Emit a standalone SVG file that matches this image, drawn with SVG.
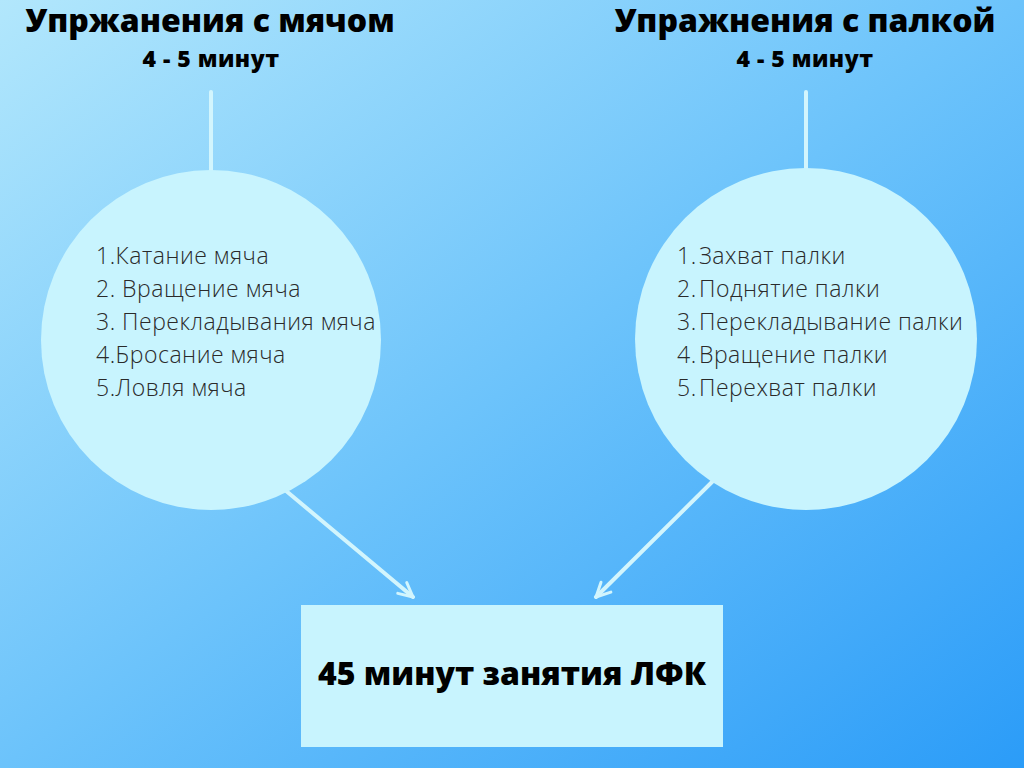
<svg xmlns="http://www.w3.org/2000/svg" width="1024" height="768" viewBox="0 0 1024 768">
<defs>
<linearGradient id="bg" x1="0" y1="0" x2="1" y2="1">
<stop offset="0" stop-color="#b2e7fc"/>
<stop offset="0.5" stop-color="#6cc3fb"/>
<stop offset="1" stop-color="#2b9cf8"/>
</linearGradient>
<marker id="arr" viewBox="0 0 20 20" refX="17" refY="10" markerWidth="20" markerHeight="20" markerUnits="userSpaceOnUse" orient="auto">
<path d="M3,3 L17,10 L3,17" fill="none" stroke="#d2f5fd" stroke-width="3" stroke-linecap="round" stroke-linejoin="round"/>
</marker>
<style>
.title{font-family:"Open Sans","Noto Sans",sans-serif;font-weight:800;font-size:32px;fill:#000;text-anchor:middle}
.sub{font-family:"Open Sans","Noto Sans",sans-serif;font-weight:800;font-size:23px;letter-spacing:0.5px;fill:#000;text-anchor:middle}
.item{font-family:"Open Sans","Noto Sans",sans-serif;font-weight:300;font-size:23px;letter-spacing:0.5px;fill:#2a2a2a}
.circ{fill:#c8f4fe}
.conn{stroke:#d2f5fd;stroke-width:4;fill:none;stroke-linecap:round}
.main{font-family:"Open Sans","Noto Sans",sans-serif;font-weight:800;font-size:32px;fill:#000;text-anchor:middle}
</style>
</defs>
<rect width="1024" height="768" fill="url(#bg)"/>
<g id="connectors">
<line class="conn" x1="211" y1="92" x2="211" y2="172"/>
<line class="conn" x1="806" y1="92" x2="806" y2="172"/>
<line class="conn" x1="285" y1="490" x2="413" y2="597" marker-end="url(#arr)"/>
<line class="conn" x1="713" y1="481" x2="596" y2="597" marker-end="url(#arr)"/>
</g>
<g id="title-left">
<text class="title" x="210" y="32">Упржанения с мячом</text>
<text class="sub" x="211" y="67">4 - 5 минут</text>
</g>
<g id="title-right">
<text class="title" x="805" y="32">Упражнения с палкой</text>
<text class="sub" x="805" y="67">4 - 5 минут</text>
</g>
<g id="circle-left">
<circle class="circ" cx="211" cy="340" r="170"/>
<text class="item" x="96" y="264">1.Катание мяча</text>
<text class="item" x="96" y="297">2. Вращение мяча</text>
<text class="item" x="96" y="330">3. Перекладывания мяча</text>
<text class="item" x="96" y="363">4.Бросание мяча</text>
<text class="item" x="96" y="396">5.Ловля мяча</text>
</g>
<g id="circle-right">
<circle class="circ" cx="806" cy="339" r="171"/>
<text class="item" x="677" y="264">1.<tspan x="699">Захват палки</tspan></text>
<text class="item" x="677" y="297">2.<tspan x="699">Поднятие палки</tspan></text>
<text class="item" x="677" y="330">3.<tspan x="699">Перекладывание палки</tspan></text>
<text class="item" x="677" y="363">4.<tspan x="699">Вращение палки</tspan></text>
<text class="item" x="677" y="396">5.<tspan x="699">Перехват палки</tspan></text>
</g>
<g id="box">
<rect x="301" y="605" width="422" height="142" fill="#c8f4fe"/>
<text class="main" x="512" y="685">45 минут занятия ЛФК</text>
</g>
</svg>
